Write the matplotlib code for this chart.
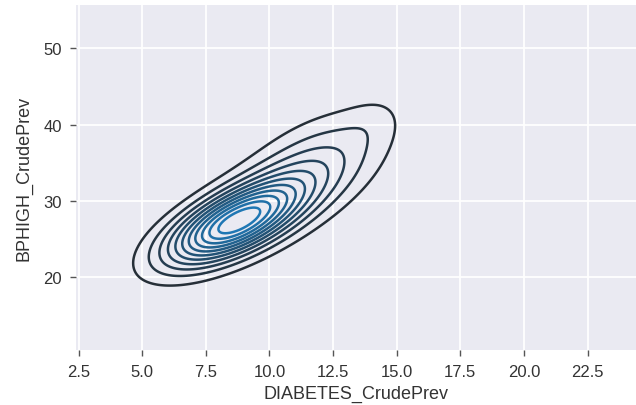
import numpy as np
import matplotlib
matplotlib.use("Agg")
import matplotlib.pyplot as plt
from matplotlib.colors import LinearSegmentedColormap

# Density model: a mixture of bivariate normals
# (weight, mean x, mean y, sd x, sd y, correlation)
weights = [0.67, 0.32, 0.01]
mean_x = [8.6, 11.6, 14.1]
mean_y = [27.0, 34.0, 40.5]
sd_x = [1.8, 2.0, 0.8]
sd_y = [3.7, 5.0, 2.4]
corr = [0.64, 0.55, 0.3]
n_levels = 11

x_ticks = [2.5, 5.0, 7.5, 10.0, 12.5, 15.0, 17.5, 20.0, 22.5]
y_ticks = [20, 30, 40, 50]


def mixture_density(xx, yy):
    z = np.zeros_like(xx)
    for w, mx, my, sx, sy, r in zip(weights, mean_x, mean_y, sd_x, sd_y, corr):
        dx = (xx - mx) / sx
        dy = (yy - my) / sy
        q = (dx**2 - 2 * r * dx * dy + dy**2) / (1 - r**2)
        z += w * np.exp(-q / 2) / (2 * np.pi * sx * sy * np.sqrt(1 - r**2))
    return z


plt.rcParams['font.family'] = ['Liberation Sans', 'DejaVu Sans']

fig = plt.figure(figsize=(6.36, 4.06), dpi=100)
ax = fig.add_axes([76 / 636, 55 / 406, 1 - 76 / 636, 345 / 406])
ax.set_facecolor('#eaeaf2')
for s in ax.spines.values():
    s.set_visible(False)
ax.grid(True, color='white', linewidth=1.3)
ax.set_axisbelow(True)

gx = np.linspace(2, 25, 400)
gy = np.linspace(10, 56, 400)
xx, yy = np.meshgrid(gx, gy)
zz = mixture_density(xx, yy)
levels = zz.max() * np.arange(1, n_levels + 1) / (n_levels + 1)

cmap = LinearSegmentedColormap.from_list('dark_blue', ['#262f38', '#1f77b4'])
ax.contour(xx, yy, zz, levels, cmap=cmap, linewidths=1.8)

ax.set_xlim(2.4, 24.4)
ax.set_ylim(10.4, 55.7)
ax.set_xticks(x_ticks)
ax.set_yticks(y_ticks)
ax.tick_params(colors='#555555', labelcolor='#333333', labelsize=12,
               length=4, width=1, direction='out', pad=6)
ax.set_xlabel('DIABETES_CrudePrev', fontsize=13, color='#333333', labelpad=4)
ax.set_ylabel('BPHIGH_CrudePrev', fontsize=13, color='#333333', labelpad=8)

fig.savefig('out.png', dpi=100)
